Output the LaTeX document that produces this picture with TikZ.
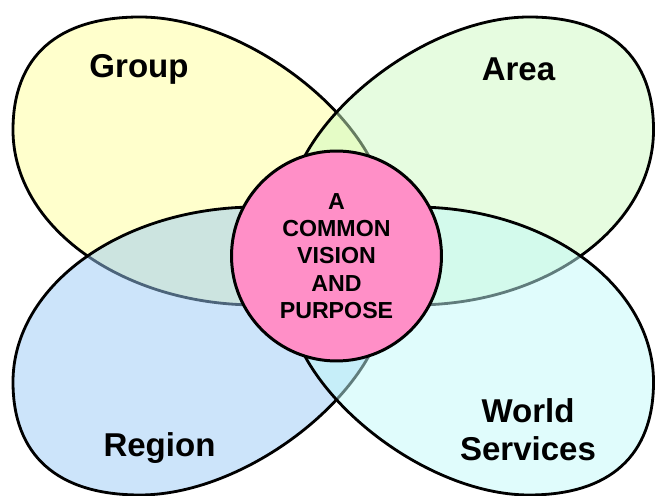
\documentclass[tikz,border=0pt]{standalone}
\usepackage{fontspec}
\setmainfont{Liberation Sans}
\usetikzlibrary{positioning}
\definecolor{groupfill}{RGB}{255,255,153}
\definecolor{areafill}{RGB}{205,249,193}
\definecolor{regionfill}{RGB}{153,201,245}
\definecolor{worldfill}{RGB}{193,249,249}
\definecolor{hubfill}{RGB}{255,143,199}
\tikzstyle{petal} = [draw=black, line width=1.6pt, fill opacity=0.5]
\newcommand{\petal}[2]{\draw[petal, fill=#2, #1] (-196.5,239)
  .. controls (-279,239) and (-323.5,199.5) .. (-323.5,126)
  .. controls (-323.5,29.4) and (-214.4,-49) .. (-80,-49)
  .. controls (-8.5,-49) and (50,-9) .. (50,40)
  .. controls (50,129.55) and (-85.6,239) .. (-196.5,239) -- cycle;}

\begin{document}
\begin{tikzpicture}[x=0.02cm, y=0.02cm,
	petaltext/.style={font=\fontsize{18.8}{21.6}\selectfont\bfseries, align=center},
	hub/.style={circle, draw, line width=1.7pt, fill=hubfill, minimum size=4.2cm,
		inner sep=0pt, align=center, font=\fontsize{13.2}{15.6}\selectfont\bfseries}]
	\useasboundingbox (-336.5,-240) rectangle (320.5,256);
	%% Petals
	\petal{}{groupfill}
	\petal{xscale=-0.98}{areafill}
	\petal{yscale=-1}{regionfill}
	\petal{xscale=-0.98, yscale=-1}{worldfill}
	%% Centre
	\node [hub] (vision) at (0,0) {A\\COMMON\\VISION\\AND\\PURPOSE};
	%% Labels
	\node [petaltext] (group) at (-197.5,187) {Group};
	\node [petaltext] (area) at (182,187) {Area};
	\node [petaltext] (region) at (-177,-192) {Region};
	\node [petaltext] (world) at (191.5,-174) {World\\Services};
\end{tikzpicture}
\end{document}
